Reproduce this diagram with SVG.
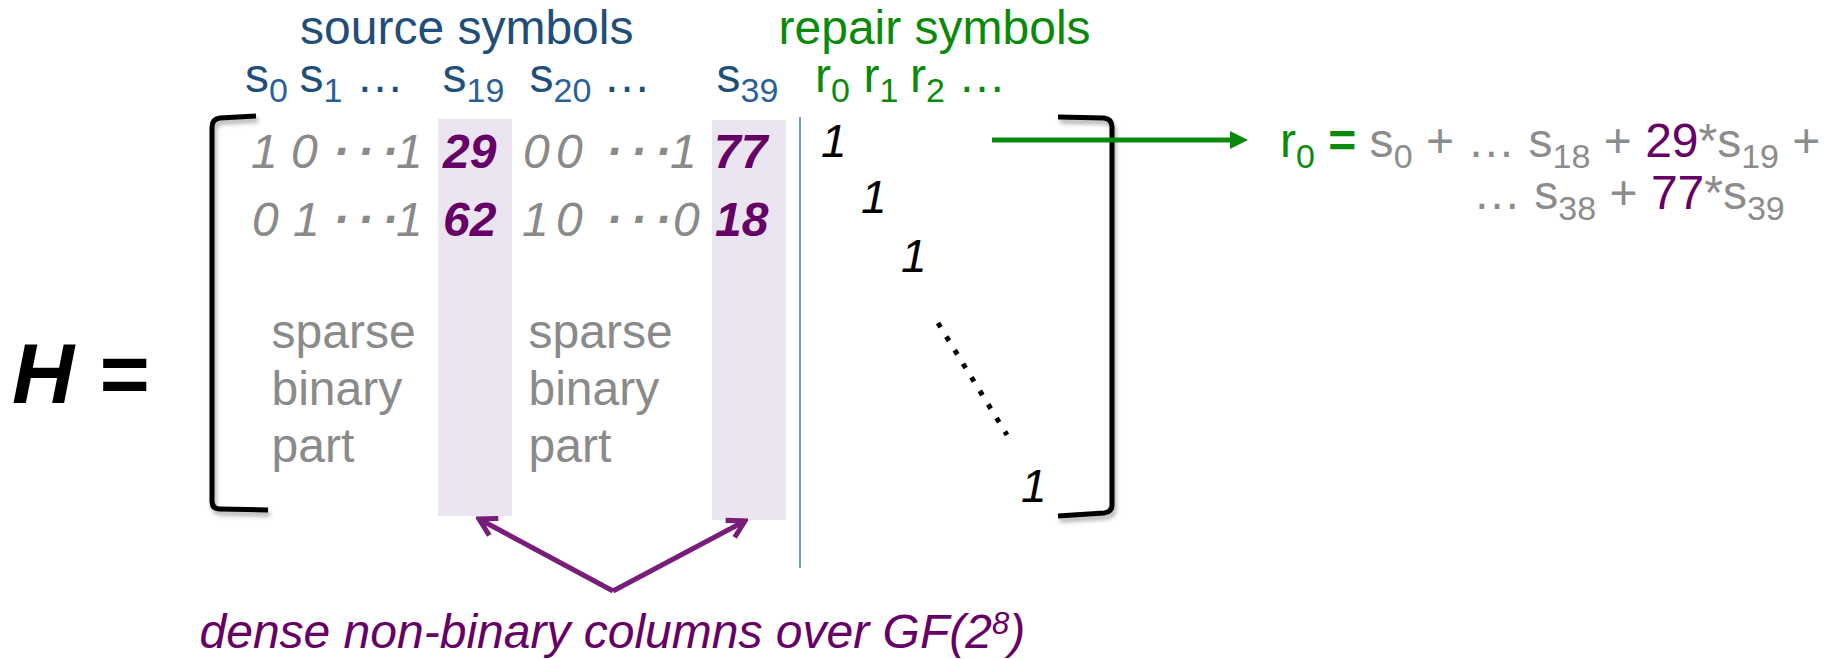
<svg xmlns="http://www.w3.org/2000/svg" width="1831" height="659" viewBox="0 0 1831 659">
<style>
text{font-family:"Liberation Sans",Arial,Helvetica,sans-serif}
.blue{fill:#1f4e79;font-size:48px}
.bsub{fill:#2b5f98;font-size:34px}
.green{fill:#0a8a0a;font-size:48px}
.sub{font-size:34px}
.mx{font-size:48px;font-style:italic;fill:#8a8a8a}
.dots{font-weight:bold}
.dn{font-size:48px;font-style:italic;font-weight:bold;fill:#660066}
.one{font-size:46px;font-style:italic;fill:#000}
.sp{font-size:48px;fill:#8a8a8a}
.eq{font-size:48px;fill:#8c8c8c}
.g{fill:#0a8a0a}
.pu{fill:#660066}
.col{fill:#ebe5f1}
.br{fill:none;stroke:#000;stroke-width:5;stroke-linejoin:round}
.parr{fill:none;stroke:#781e78;stroke-width:5}
</style>
<defs>
<filter id="sh" x="-20%" y="-5%" width="140%" height="115%">
<feDropShadow dx="2" dy="4" stdDeviation="2" flood-color="#000" flood-opacity="0.3"/>
</filter>
<marker id="ga" viewBox="0 0 18 18" refX="4" refY="9" markerWidth="18" markerHeight="18" markerUnits="userSpaceOnUse" orient="auto">
<path d="M0,0 L18,9 L0,18 Z" fill="#0a8a0a"/>
</marker>
<marker id="pa" viewBox="0 0 20 20" refX="17" refY="10" markerWidth="24" markerHeight="24" markerUnits="userSpaceOnUse" orient="auto">
<path d="M3,2 L17,10 L3,18" fill="none" stroke="#781e78" stroke-width="4.2"/>
</marker>
</defs>
<rect width="1831" height="659" fill="#fff"/>

<g id="dense-columns">
<rect class="col" x="438" y="119" width="74" height="397"/>
<rect class="col" x="712" y="120" width="74" height="400"/>
</g>

<g id="headers">
<text class="blue" x="300" y="44">source symbols</text>
<text class="green" x="778.5" y="44">repair symbols</text>
<text class="blue">
<tspan x="245" y="91.7">s</tspan><tspan class="bsub" x="269" y="101.7">0</tspan>
<tspan x="299.5" y="91.7">s</tspan><tspan class="bsub" x="323.5" y="101.7">1</tspan>
<tspan x="356" y="91.7">…</tspan>
<tspan x="442.5" y="91.7">s</tspan><tspan class="bsub" x="466.5" y="101.7">19</tspan>
<tspan x="529.5" y="91.7">s</tspan><tspan class="bsub" x="553.5" y="101.7">20</tspan>
<tspan x="603" y="91.7">…</tspan>
<tspan x="716.5" y="91.7">s</tspan><tspan class="bsub" x="740.5" y="101.7">39</tspan>
</text>
<text class="green">
<tspan x="815" y="91.7">r</tspan><tspan class="sub" x="831" y="101.7">0</tspan>
<tspan x="863.5" y="91.7">r</tspan><tspan class="sub" x="879.5" y="101.7">1</tspan>
<tspan x="910" y="91.7">r</tspan><tspan class="sub" x="926" y="101.7">2</tspan>
<tspan x="958" y="91.7">…</tspan>
</text>
</g>

<g id="H-label">
<text x="12" y="403" style="font-size:86px;font-weight:bold;font-style:italic;fill:#000">H =</text>
</g>

<g id="matrix-brackets" filter="url(#sh)">
<path class="br" d="M256,116 L220,118 Q212,119 212,127 L212,501 Q212,509 220,509 L268,510"/>
<path class="br" d="M1058,117 L1104,118 Q1112,119 1112,127 L1112,505 Q1112,512 1104,513 L1058,516"/>
</g>

<g id="separator">
<line x1="800" y1="117" x2="800" y2="568" stroke="#6b9bd1" stroke-width="2"/>
</g>

<g id="row-1">
<text class="mx" y="168"><tspan x="251">1</tspan><tspan x="291">0</tspan><tspan class="dots" x="333 357.5 382">···</tspan><tspan x="396">1</tspan></text>
<text class="dn" x="443" y="168">29</text>
<text class="mx" y="168"><tspan x="523">0</tspan><tspan x="556">0</tspan><tspan class="dots" x="606 630.5 655">···</tspan><tspan x="670">1</tspan></text>
<text class="dn" x="714" y="168">77</text>
</g>

<g id="row-2">
<text class="mx" y="236"><tspan x="252">0</tspan><tspan x="293">1</tspan><tspan class="dots" x="333 357.5 382">···</tspan><tspan x="396">1</tspan></text>
<text class="dn" x="443" y="236">62</text>
<text class="mx" y="236"><tspan x="522">1</tspan><tspan x="556">0</tspan><tspan class="dots" x="606 630.5 655">···</tspan><tspan x="673">0</tspan></text>
<text class="dn" x="715" y="236">18</text>
</g>

<g id="sparse-part-1">
<text class="sp"><tspan x="271.5" y="348">sparse</tspan><tspan x="271.5" y="405">binary</tspan><tspan x="271.5" y="462">part</tspan></text>
</g>
<g id="sparse-part-2">
<text class="sp"><tspan x="528.5" y="348">sparse</tspan><tspan x="528.5" y="405">binary</tspan><tspan x="528.5" y="462">part</tspan></text>
</g>

<g id="identity">
<text class="one" x="821" y="157">1</text>
<text class="one" x="861" y="213">1</text>
<text class="one" x="901" y="271.5">1</text>
<line x1="938" y1="323" x2="1007" y2="435" stroke="#000" stroke-width="5" stroke-dasharray="5 10.94"/>
<text class="one" x="1021" y="502">1</text>
</g>

<g id="equation">
<text class="eq" x="1280" y="157"><tspan class="g">r</tspan><tspan class="g sub" dy="11">0</tspan><tspan class="g" dy="-11" font-weight="bold"> =</tspan><tspan> s</tspan><tspan class="sub" dy="11">0</tspan><tspan dy="-11"> + … s</tspan><tspan class="sub" dy="11">18</tspan><tspan dy="-11"> + </tspan><tspan class="pu">29</tspan><tspan>*s</tspan><tspan class="sub" dy="11">19</tspan><tspan dy="-11"> +</tspan></text>
<text class="eq" x="1473" y="209"><tspan>… s</tspan><tspan class="sub" dy="11">38</tspan><tspan dy="-11"> + </tspan><tspan class="pu">77</tspan><tspan>*s</tspan><tspan class="sub" dy="11">39</tspan></text>
</g>

<g id="caption">
<text x="199.5" y="648" style="font-size:48px;font-style:italic;fill:#660066">dense non-binary columns over GF(2<tspan style="font-size:31px" dy="-14">8</tspan><tspan dy="14">)</tspan></text>
</g>

<g id="connectors">
<line x1="992" y1="140" x2="1234" y2="140" stroke="#0a8a0a" stroke-width="5" marker-end="url(#ga)"/>
<line class="parr" x1="613" y1="591" x2="479" y2="519" marker-end="url(#pa)"/>
<line class="parr" x1="613" y1="591" x2="745" y2="521" marker-end="url(#pa)"/>
</g>
</svg>
